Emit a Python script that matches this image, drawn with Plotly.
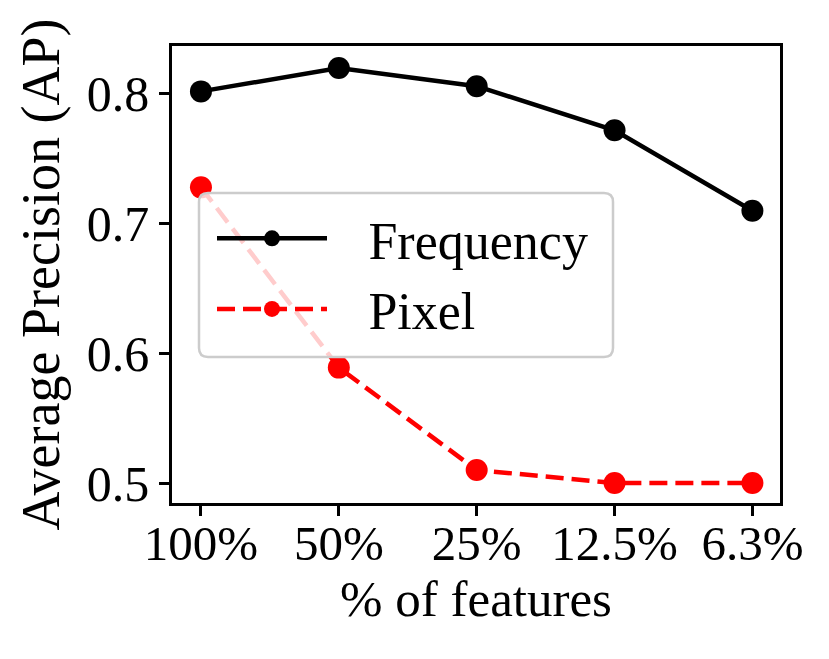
import plotly.graph_objects as go

categories = ["100%", "50%", "25%", "12.5%", "6.3%"]
frequency = [0.802, 0.820, 0.806, 0.772, 0.710]
pixel = [0.728, 0.589, 0.510, 0.500, 0.500]
y_ticks = [0.5, 0.6, 0.7, 0.8]

# page has an 8px body margin; figure is sized to fit inside the 829x659 window
OFF = 8
W, H = 829 - 2 * OFF, 659 - 2 * OFF
PL, PR, PT, PB = 172, 780, 46, 503          # plot-area edges in window pixels
ML, MR, MT, MB = PL - OFF, OFF + W - PR, PT - OFF, OFF + H - PB
PW, PH = PR - PL, PB - PT

FONT = "Liberation Serif, Times New Roman, serif"

fig = go.Figure()
fig.add_trace(go.Scatter(x=categories, y=frequency, name="\u2002\u2009Frequency", mode="lines+markers",
                         line=dict(color="black", width=4.5),
                         marker=dict(color="black", size=22)))
fig.add_trace(go.Scatter(x=categories, y=pixel, name="\u2002\u2009Pixel", mode="lines+markers",
                         line=dict(color="red", width=4.5, dash="18px,8px"),
                         marker=dict(color="red", size=22)))

def px2paper(xp, yp):
    return (xp - PL) / PW, (PB - yp) / PH

# rounded legend frame
x0, y0 = px2paper(199, 193)
x1, y1 = px2paper(613, 357)
rx, ry = 9 / PW, 9 / PH
path = (f"M{x0+rx},{y0} L{x1-rx},{y0} Q{x1},{y0} {x1},{y0-ry} "
        f"L{x1},{y1+ry} Q{x1},{y1} {x1-rx},{y1} L{x0+rx},{y1} Q{x0},{y1} {x0},{y1+ry} "
        f"L{x0},{y0-ry} Q{x0},{y0} {x0+rx},{y0} Z")
fig.add_shape(type="path", path=path, xref="paper", yref="paper", layer="above",
              fillcolor="rgba(255,255,255,0.8)", line=dict(color="rgba(204,204,204,1)", width=2.5))

fig.update_layout(
    width=W, height=H,
    margin=dict(l=ML, r=MR, t=MT, b=MB, autoexpand=False),
    paper_bgcolor="white", plot_bgcolor="white",
    font=dict(family=FONT, size=49, color="black"),
    showlegend=True,
    legend=dict(x=px2paper(212, 0)[0], y=px2paper(0, 198)[1], xanchor="left", yanchor="top",
                bgcolor="rgba(0,0,0,0)", borderwidth=0, itemwidth=110,
                font=dict(family=FONT, size=52, color="black")),
)
fig.update_xaxes(type="category", range=[-0.21, 4.2], showline=True, linecolor="black", linewidth=2.5,
                 mirror=True, ticks="outside", ticklen=10, tickwidth=2.5, tickcolor="black",
                 showgrid=False, zeroline=False, automargin=False, ticklabelstandoff=-15,
                 title=dict(text="% of features", standoff=8, font=dict(size=51)),
                 tickfont=dict(size=49))
fig.update_yaxes(range=[0.4846, 0.837], tickvals=y_ticks, ticktext=[f"{v:.1f}" for v in y_ticks],
                 showline=True, linecolor="black", linewidth=2.5, mirror=True,
                 ticks="outside", ticklen=10, tickwidth=2.5, tickcolor="black",
                 showgrid=False, zeroline=False, automargin=False,
                 title=dict(text="Average Precision (AP)", standoff=10, font=dict(size=54)),
                 tickfont=dict(size=50))

fig.write_html("out.html")
